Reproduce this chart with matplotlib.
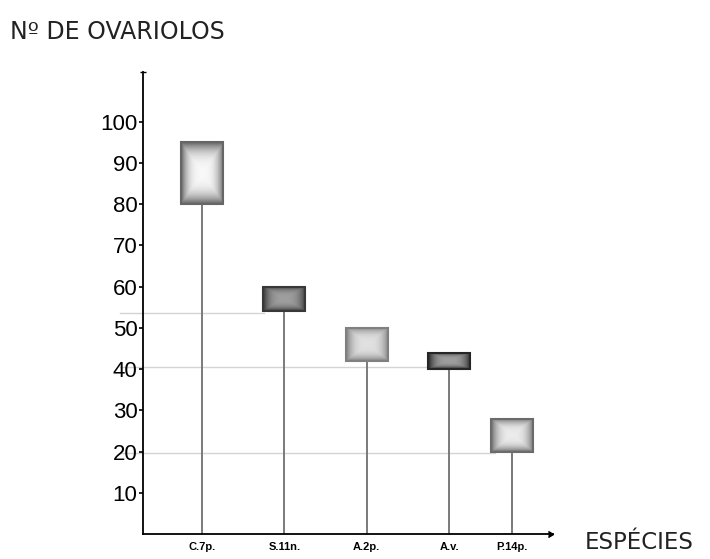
import numpy as np
import matplotlib.pyplot as plt
from matplotlib.patches import Rectangle

# dados
especies = ["C.7p.", "S.11n.", "A.2p.", "A.v.", "P.14p."]
ovar_min = [80, 54, 42, 40, 20]
ovar_max = [95, 60, 50, 44, 28]
y_ticks = [10, 20, 30, 40, 50, 60, 70, 80, 90, 100]

# linhas fracas de guia (marcas do papel)
guia_nivel = [53.5, 40.5, 19.7]
guia_fim = [1.75, 3.8, 4.55]

# posicao de cada especie no eixo x e tons das caixas (centro, borda)
x_pos = [1.0, 2.0, 3.0, 4.0, 4.76]
tom_centro = [0.97, 0.62, 0.88, 0.62, 0.92]
tom_borda = [0.40, 0.22, 0.50, 0.15, 0.42]

plt.rcParams['font.family'] = ['Liberation Sans', 'DejaVu Sans']

fig = plt.figure(figsize=(7.1, 5.59), dpi=100)
ax = fig.add_axes([0.2014, 0.0447, 0.5775, 0.8265])

u = np.linspace(-1, 1, 60)
U, V = np.meshgrid(u, u)
d = np.maximum(np.abs(U), np.abs(V)) ** 3

for i in range(len(especies)):
    ax.plot([x_pos[i], x_pos[i]], [0, ovar_min[i]], "-", color="#7a7a7a", linewidth=1.4, zorder=2)
    img = tom_centro[i] + (tom_borda[i] - tom_centro[i]) * d
    ax.imshow(img, cmap="gray", vmin=0, vmax=1, aspect="auto", interpolation="bilinear",
              extent=(x_pos[i] - 0.255, x_pos[i] + 0.255, ovar_min[i], ovar_max[i]), zorder=3)
    r = Rectangle((x_pos[i] - 0.255, ovar_min[i]), 0.51, ovar_max[i] - ovar_min[i],
                  facecolor="none", edgecolor=str(tom_borda[i]), linewidth=1.5, zorder=4)
    ax.add_patch(r)

for nivel, fim in zip(guia_nivel, guia_fim):
    ax.plot([0.0, fim], [nivel, nivel], "-", color="#d4d4d4", linewidth=1.0, zorder=1, clip_on=False)

ax.set_xlim(0.283, 5.26)
ax.set_ylim(0, 112)

ax.spines['top'].set_visible(False)
ax.spines['right'].set_visible(False)
ax.spines['left'].set_linewidth(1.3)
ax.spines['bottom'].set_linewidth(1.3)
ax.plot([5.26], [0], marker=5, color="black", markersize=5, clip_on=False)
ax.plot([0.283], [112], marker="_", color="black", markersize=5, clip_on=False)

ax.set_yticks(y_ticks)
ax.set_yticklabels([str(v) for v in y_ticks], fontsize=16)
ax.tick_params(axis='y', direction='out', length=3, width=1.2, pad=1)

ax.set_xticks(x_pos)
ax.set_xticklabels(especies, fontsize=8, fontweight='bold')
ax.tick_params(axis='x', length=0, pad=6)

fig.text(0.014, 0.93, "Nº DE OVARIOLOS", fontsize=17, color="#222222", family="DejaVu Sans")
fig.text(0.823, 0.018, "ESPÉCIES", fontsize=16.5, color="#222222", family="DejaVu Sans")

plt.savefig("out.png", dpi=100)
